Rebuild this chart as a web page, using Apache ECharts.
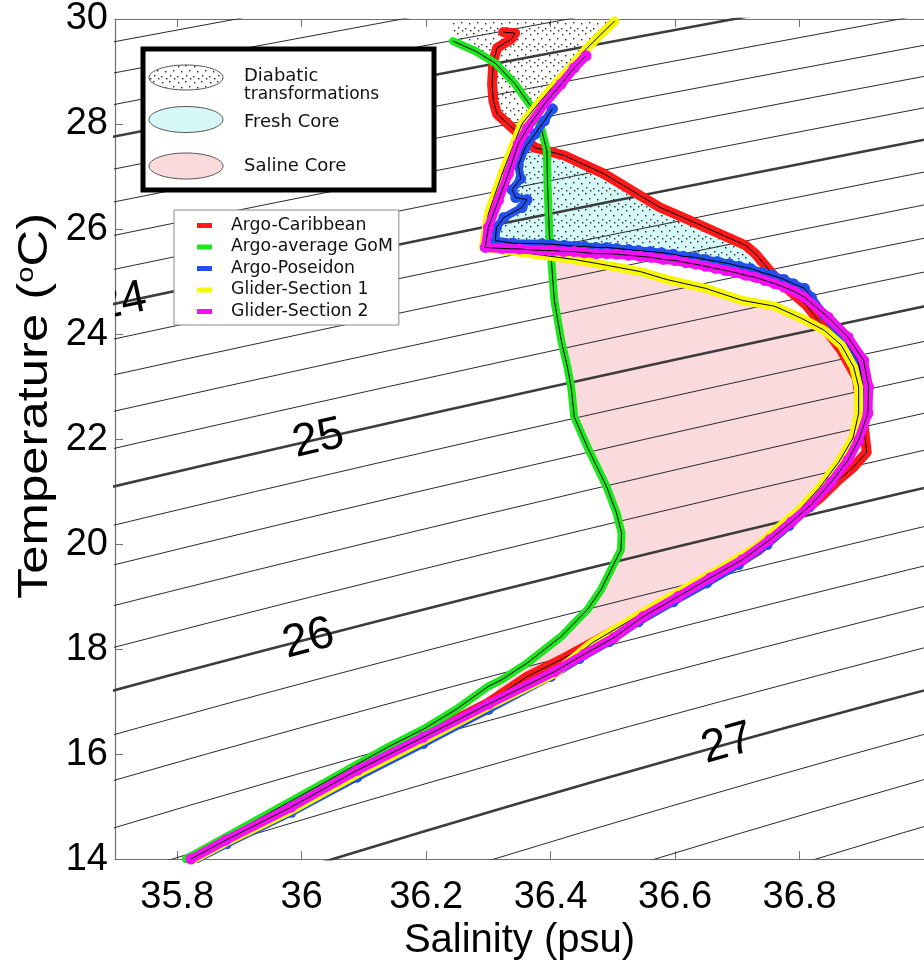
<!DOCTYPE html>
<html>
<head>
<meta charset="utf-8">
<script src="https://cdn.jsdelivr.net/npm/echarts@6/dist/echarts.min.js"></script>
<style>
  html, body { margin: 0; padding: 0; background: #ffffff; }
  #chart { width: 924px; height: 966px; }
</style>
</head>
<body>
<div id="chart"></div>
<script>
// ---- Profiles: salinity (psu) and temperature (°C) ----
const caribbeanS = [36.324,36.343,36.337,36.314,36.308,36.306,36.308,36.314,36.338,36.375,36.422,36.486,36.549,36.576,36.613,36.649,36.713,36.729,36.756,36.771,36.811,36.843,36.867,36.892,36.895,36.902,36.908,36.887,36.859,36.835,36.803,36.771,36.735,36.681,36.629,36.576,36.522,36.470,36.417,36.363,36.300,36.195,36.089,35.983,35.878,35.822];
const caribbeanT = [29.75,29.73,29.62,29.45,29.20,28.76,28.44,28.19,27.93,27.55,27.40,27.05,26.60,26.41,26.22,26.03,25.69,25.53,25.15,24.96,24.55,24.07,23.69,23.16,22.93,22.36,21.75,21.47,21.18,20.90,20.59,20.27,19.89,19.51,19.17,18.83,18.48,18.14,17.80,17.48,16.98,16.34,15.65,14.95,14.38,14.00];

const gomS = [36.243,36.279,36.311,36.343,36.370,36.386,36.394,36.395,36.398,36.402,36.406,36.417,36.427,36.433,36.438,36.459,36.490,36.506,36.514,36.513,36.497,36.481,36.459,36.417,36.363,36.322,36.300,36.248,36.195,36.141,36.037,35.930,35.814];
const gomT = [29.58,29.39,29.16,28.76,28.31,27.87,27.49,26.86,25.91,25.27,24.64,23.88,23.37,22.99,22.42,21.85,21.09,20.59,20.21,19.89,19.51,19.13,18.75,18.24,17.74,17.42,17.29,16.85,16.47,16.15,15.46,14.76,14.00];

const poseidonS = [36.403,36.390,36.375,36.359,36.348,36.352,36.338,36.344,36.362,36.354,36.325,36.313,36.311,36.340,36.386,36.403,36.422,36.438,36.454,36.473,36.490,36.506,36.525,36.541,36.560,36.578,36.597,36.613,36.632,36.649,36.668,36.687,36.703,36.721,36.740,36.756,36.775,36.790,36.808,36.819,36.840,36.870,36.894,36.902,36.900,36.892,36.875,36.844,36.816,36.783,36.748,36.702,36.651,36.597,36.541,36.494,36.446,36.400,36.300,36.195,36.089,35.983,35.879,35.827];
const poseidonT = [28.29,28.06,27.81,27.55,27.21,26.96,26.75,26.60,26.56,26.41,26.22,26.03,25.78,25.73,25.72,25.71,25.69,25.67,25.67,25.65,25.65,25.63,25.61,25.59,25.57,25.55,25.52,25.48,25.46,25.42,25.38,25.34,25.29,25.25,25.17,25.12,25.04,24.96,24.87,24.70,24.36,23.94,23.50,22.99,22.49,21.98,21.60,21.09,20.71,20.35,19.99,19.61,19.26,18.90,18.52,18.14,17.82,17.48,16.85,16.20,15.56,14.89,14.29,13.97];

const glider1S = [36.503,36.481,36.454,36.427,36.402,36.375,36.354,36.343,36.322,36.300,36.292,36.375,36.438,36.481,36.544,36.586,36.649,36.708,36.760,36.803,36.840,36.867,36.887,36.895,36.895,36.886,36.863,36.832,36.800,36.768,36.732,36.679,36.625,36.571,36.517,36.467,36.406,36.300,36.195,36.089,35.983,35.878,35.824];
const glider1T = [29.96,29.71,29.39,29.01,28.69,28.31,28.00,27.68,27.05,26.29,25.65,25.52,25.42,25.33,25.19,25.04,24.87,24.64,24.53,24.30,24.07,23.79,23.37,22.99,22.49,22.02,21.56,21.07,20.65,20.33,19.95,19.57,19.21,18.85,18.47,18.12,17.53,16.91,16.26,15.62,14.93,14.32,13.98];

const glider2S = [36.457,36.438,36.417,36.390,36.363,36.348,36.332,36.316,36.300,36.295,36.322,36.350,36.386,36.403,36.421,36.438,36.454,36.473,36.490,36.506,36.525,36.544,36.562,36.581,36.600,36.617,36.633,36.649,36.665,36.681,36.697,36.713,36.729,36.744,36.760,36.776,36.792,36.808,36.846,36.878,36.903,36.911,36.910,36.895,36.878,36.851,36.819,36.787,36.752,36.708,36.657,36.605,36.549,36.502,36.454,36.406,36.300,36.195,36.089,35.983,35.878,35.822];
const glider2T = [29.30,29.07,28.76,28.38,27.93,27.62,27.05,26.54,26.03,25.65,25.63,25.62,25.59,25.59,25.57,25.57,25.55,25.53,25.53,25.52,25.50,25.48,25.46,25.42,25.40,25.36,25.33,25.29,25.25,25.21,25.17,25.12,25.08,25.02,24.96,24.89,24.81,24.70,24.32,23.94,23.50,22.99,22.49,21.98,21.60,21.18,20.75,20.42,20.08,19.70,19.36,19.00,18.62,18.22,17.90,17.57,16.95,16.32,15.69,14.99,14.36,14.00];

// ---- Axes ----
const salMin = 35.7, salMax = 37.0;
const tMin = 14, tMax = 30, tStep = 2;
const salTicks = [35.8, 36, 36.2, 36.4, 36.6, 36.8];

// ---- Isopycnals (sigma-theta, kg/m3) ----
const sigmaFirst = 22.0, sigmaLast = 28.0, sigmaStep = 0.2;
const labelLevels = [24, 25, 26, 27];
const labelSalinity = [35.710, 36.027, 36.011, 36.684];

// ---- Water-mass shading ----
const salineColor = '#fadadd';
const freshColor = '#d6f8f8';

// UNESCO (1983) seawater density at the surface, returned as sigma
function sigmaOf(S, T) {
  const T2 = T * T, T3 = T2 * T, T4 = T3 * T, T5 = T4 * T;
  const rw = 999.842594 + 6.793952e-2 * T - 9.095290e-3 * T2 + 1.001685e-4 * T3
           - 1.120083e-6 * T4 + 6.536332e-9 * T5;
  const A = 8.24493e-1 - 4.0899e-3 * T + 7.6438e-5 * T2 - 8.2467e-7 * T3 + 5.3875e-9 * T4;
  const B = -5.72466e-3 + 1.0227e-4 * T - 1.6546e-6 * T2;
  const C = 4.8314e-4;
  return rw + A * S + B * Math.pow(S, 1.5) + C * S * S - 1000;
}
function salinityOn(sig, T) {
  let S = 36;
  for (let k = 0; k < 30; k++) {
    const f = sigmaOf(S, T) - sig;
    const d = (sigmaOf(S + 1e-3, T) - sigmaOf(S, T)) / 1e-3;
    S -= f / d;
  }
  return S;
}
function temperatureOn(sig, S) {
  let T = 20;
  for (let k = 0; k < 30; k++) {
    const f = sigmaOf(S, T) - sig;
    const d = (sigmaOf(S, T + 1e-3) - sigmaOf(S, T)) / 1e-3;
    T -= f / d;
  }
  return T;
}

const pairs = (S, T) => S.map((s, i) => [s, T[i]]);
const red = pairs(caribbeanS, caribbeanT);
const green = pairs(gomS, gomT);
const blue = pairs(poseidonS, poseidonT);
const yellow = pairs(glider1S, glider1T);
const magenta = pairs(glider2S, glider2T);

// Region outlines assembled from the profiles
const freshPoly = red.slice(9, 20).concat(blue.slice(3, 37).reverse());
const upperMixPoly = [green[0], [gomS[0], tMax], [glider1S[0], tMax]]
  .concat(yellow.slice(0, 7))
  .concat(red.slice(4, 9).reverse())
  .concat([green[2], green[1]]);
const salinePoly = green.slice(8, 26).concat(yellow.slice(11, 38).reverse());

// Stipple texture for the diabatic region
const stippleDots = [[2,2],[9,1],[13,6],[5,7],[10,11],[1,12],[6,14],[14,14]];
function makeStipple() {
  const c = document.createElement('canvas');
  c.width = 16; c.height = 16;
  const g = c.getContext('2d');
  g.fillStyle = '#262626';
  stippleDots.forEach(([x, y]) => g.fillRect(x, y, 1.4, 1.4));
  return c;
}
const stipple = { image: makeStipple(), repeat: 'repeat' };

function polygonSeries(name, polys, fill, z) {
  return {
    name: name,
    type: 'custom',
    coordinateSystem: 'cartesian2d',
    silent: true,
    clip: true,
    z: z,
    data: [polys[0][0]],
    renderItem: function (params, api) {
      return {
        type: 'group',
        children: polys.map(p => ({
          type: 'polygon',
          shape: { points: p.map(pt => api.coord(pt)) },
          style: { fill: fill, stroke: null }
        }))
      };
    }
  };
}

const series = [];
series.push(polygonSeries('Saline Core', [salinePoly], salineColor, 1));
series.push(polygonSeries('Fresh Core', [freshPoly], freshColor, 1));
series.push(polygonSeries('Diabatic transformations', [upperMixPoly, freshPoly], stipple, 1));

// Isopycnal lines
const isoTemps = [];
for (let t = 11; t <= 33.001; t += 0.5) isoTemps.push(t);
for (let sg = sigmaFirst; sg <= sigmaLast + 1e-6; sg += sigmaStep) {
  const level = Math.round(sg * 10) / 10;
  const major = Math.abs(level - Math.round(level)) < 1e-6;
  series.push({
    type: 'line',
    silent: true,
    symbol: 'none',
    z: 2,
    clip: true,
    data: isoTemps.map(t => [salinityOn(level, t), t]),
    lineStyle: { color: major ? '#3c3c3c' : '#2a2a2a', width: major ? 2.6 : 1 }
  });
}

// Isopycnal labels
series.push({
  type: 'custom',
  coordinateSystem: 'cartesian2d',
  silent: true,
  clip: true,
  z: 3,
  data: labelLevels.map((lv, i) => [labelSalinity[i], temperatureOn(lv, labelSalinity[i]), lv]),
  renderItem: function (params, api) {
    const S = api.value(0), lv = api.value(2);
    const p = api.coord([S, api.value(1)]);
    const a = api.coord([S - 0.03, temperatureOn(lv, S - 0.03)]);
    const b = api.coord([S + 0.03, temperatureOn(lv, S + 0.03)]);
    const ang = Math.atan2(b[1] - a[1], b[0] - a[0]);
    return {
      type: 'text',
      x: p[0], y: p[1],
      rotation: -ang,
      style: {
        text: String(lv),
        fontSize: 46,
        fontFamily: 'Liberation Sans',
        fill: '#000',
        align: 'center',
        verticalAlign: 'middle'
      }
    };
  }
});

// Profiles: coloured band (with sample markers where given) and a thin black trace on top
const profiles = [
  { name: 'Argo-Caribbean', data: red, color: '#ff1a1a', width: 10, marker: 0 },
  { name: 'Argo-average GoM', data: green, color: '#1ee61e', width: 8, marker: 0 },
  { name: 'Argo-Poseidon', data: blue, color: '#2150ec', width: 8, marker: 11 },
  { name: 'Glider-Section 1', data: yellow, color: '#f8f800', width: 9, marker: 0 },
  { name: 'Glider-Section 2', data: magenta, color: '#f410f4', width: 9, marker: 11 }
];
profiles.forEach((p, i) => {
  series.push({
    name: p.name,
    type: 'line',
    data: p.data,
    symbol: p.marker ? 'circle' : 'none',
    symbolSize: p.marker,
    showSymbol: !!p.marker,
    showAllSymbol: true,
    z: 5 + 2 * i,
    itemStyle: { color: p.color, borderWidth: 0 },
    lineStyle: { color: p.color, width: p.width, cap: 'round', join: 'round' }
  });
  series.push({
    name: p.name + ' trace',
    type: 'line',
    data: p.data,
    symbol: 'none',
    silent: true,
    z: 6 + 2 * i,
    itemStyle: { color: '#000' },
    lineStyle: { color: '#000', width: 1 }
  });
});

const axisGray = '#707070';
const option = {
  animation: false,
  backgroundColor: '#ffffff',
  grid: { left: 115, right: -10, top: 18, bottom: 106, containLabel: false },
  xAxis: [
    {
      type: 'value', position: 'bottom', min: salMin, max: salMax,
      name: 'Salinity (psu)', nameLocation: 'middle', nameGap: 57,
      nameTextStyle: { fontSize: 40, fontFamily: 'Liberation Sans', color: '#000' },
      axisLine: { show: true, lineStyle: { color: axisGray, width: 1.2 } },
      axisTick: { show: true, inside: true, length: 8, customValues: salTicks, lineStyle: { color: axisGray } },
      axisLabel: { customValues: salTicks, fontSize: 38, fontFamily: 'Liberation Sans', color: '#000', margin: 19 },
      splitLine: { show: false }
    },
    {
      type: 'value', position: 'top', min: salMin, max: salMax,
      axisLine: { show: true, lineStyle: { color: axisGray, width: 1.2 } },
      axisTick: { show: true, inside: true, length: 8, customValues: salTicks, lineStyle: { color: axisGray } },
      axisLabel: { show: false },
      splitLine: { show: false }
    }
  ],
  yAxis: {
    type: 'value', min: tMin, max: tMax, interval: tStep,
    axisLine: { show: true, lineStyle: { color: axisGray, width: 1.2 } },
    axisTick: { show: true, inside: true, length: 8, lineStyle: { color: axisGray } },
    axisLabel: { fontSize: 38, fontFamily: 'Liberation Sans', color: '#000', margin: 7 },
    splitLine: { show: false }
  },
  legend: {
    data: profiles.map(p => p.name),
    orient: 'vertical',
    left: 174, top: 210,
    z: 20,
    icon: 'rect',
    itemWidth: 15, itemHeight: 5, itemGap: 4.5,
    padding: [7, 6, 5, 23],
    backgroundColor: '#ffffff',
    borderColor: '#8a8a8a', borderWidth: 1,
    selectedMode: false,
    formatter: n => '{t|' + n + '}',
    textStyle: {
      fontFamily: 'DejaVu Sans', fontSize: 17.3, color: '#111',
      rich: { t: { fontFamily: 'DejaVu Sans', fontSize: 17.3, color: '#111', lineHeight: 18, padding: [0, 0, 0, 14] } }
    }
  },
  graphic: [
    {
      type: 'text', x: 35, y: 406, rotation: Math.PI / 2, scaleX: 1.21, z: 100,
      style: {
        text: 'Temperature ({s|o}C)', fontSize: 42, fontFamily: 'Liberation Sans', fill: '#000',
        align: 'center', verticalAlign: 'middle',
        rich: { s: { fontSize: 24, fontFamily: 'Liberation Sans', padding: [0, 0, 18, 0] } }
      }
    },
    {
      type: 'group', z: 100,
      children: [
        { type: 'rect', shape: { x: 143, y: 49, width: 291, height: 141 },
          style: { fill: '#ffffff', stroke: '#000', lineWidth: 5 }, z: 100 },
        { type: 'ellipse', shape: { cx: 186, cy: 77.5, rx: 37, ry: 12.5 },
          style: { fill: stipple, stroke: '#555', lineWidth: 1 }, z: 101 },
        { type: 'ellipse', shape: { cx: 186, cy: 119.5, rx: 37, ry: 13 },
          style: { fill: freshColor, stroke: '#555', lineWidth: 1 }, z: 101 },
        { type: 'ellipse', shape: { cx: 186, cy: 166, rx: 37, ry: 13 },
          style: { fill: salineColor, stroke: '#555', lineWidth: 1 }, z: 101 },
        { type: 'text', x: 244, y: 76, z: 101,
          style: { text: 'Diabatic', fontSize: 18, fontFamily: 'DejaVu Sans', fill: '#111', verticalAlign: 'middle' } },
        { type: 'text', x: 244, y: 95, z: 101,
          style: { text: 'transformations', fontSize: 17, fontFamily: 'DejaVu Sans', fill: '#111', verticalAlign: 'middle' } },
        { type: 'text', x: 244, y: 122, z: 101,
          style: { text: 'Fresh Core', fontSize: 18, fontFamily: 'DejaVu Sans', fill: '#111', verticalAlign: 'middle' } },
        { type: 'text', x: 244, y: 166, z: 101,
          style: { text: 'Saline Core', fontSize: 18, fontFamily: 'DejaVu Sans', fill: '#111', verticalAlign: 'middle' } }
      ]
    }
  ],
  series: series
};

const chart = echarts.init(document.getElementById('chart'));
chart.setOption(option);
</script>
</body>
</html>
